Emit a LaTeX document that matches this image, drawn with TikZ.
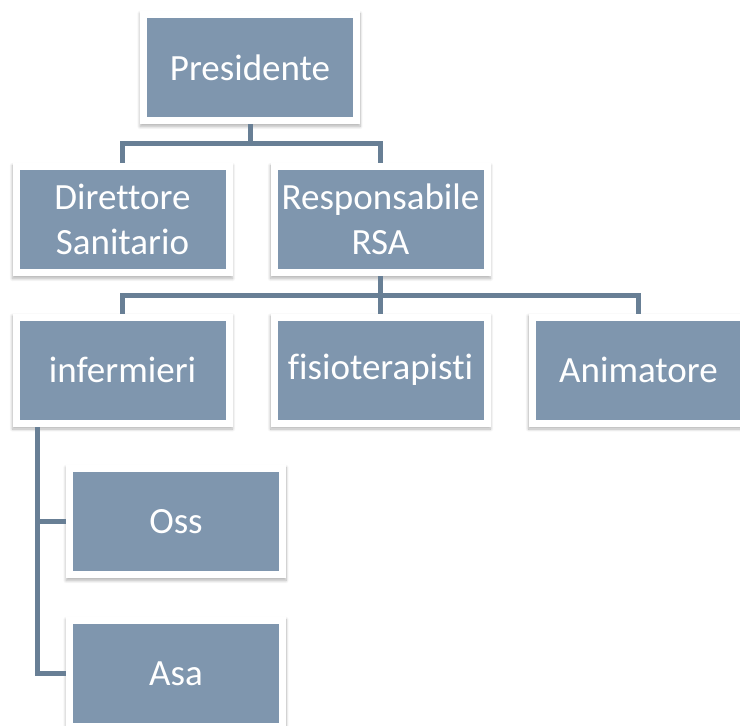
\documentclass[tikz,border=0pt]{standalone}
\usepackage{fontspec}
\setmainfont{Carlito}[Ligatures={NoCommon}]
\usetikzlibrary{shadows.blur}
\definecolor{boxfill}{HTML}{7F96AE}
\definecolor{connc}{HTML}{687F95}
\begin{document}
\begin{tikzpicture}[x=1pt,y=-1pt,
  orgbox/.style={rectangle, fill=white, draw=none,
    minimum width=220pt, minimum height=113pt, inner sep=0pt, outer sep=0pt,
    text=white, font=\fontsize{37}{45}\selectfont, align=center,
    path picture={\fill[boxfill] ([shift={(7pt,-7pt)}]path picture bounding box.north west)
      rectangle ([shift={(-7pt,7pt)}]path picture bounding box.south east);},
    blur shadow={shadow xshift=0pt, shadow yshift=-2.5pt, shadow opacity=30, shadow blur radius=3pt, shadow blur steps=8}},
  conn/.style={draw=connc, line width=5pt, line join=miter}]
\useasboundingbox (0,0) rectangle (740,726);
\clip (0,0) rectangle (740,726);
\coordinate (bar1) at (250,143);
\coordinate (bar2) at (380.5,295);
\coordinate (ib) at (37,427);
\node[orgbox] (pres) at (250,67.5) {Presidente};
\node[orgbox] (dir) at (122.5,219.5) {Direttore\\Sanitario};
\node[orgbox] (resp) at (380.5,219.5) {Responsabile\\RSA};
\node[orgbox] (inf) at (122.5,370) {infermieri};
\node[orgbox] (fis) at (380.5,370) {fisioterapisti};
\node[orgbox] (ani) at (638.5,370) {Animatore};
\node[orgbox] (oss) at (176,521.5) {Oss};
\node[orgbox] (asa) at (176,673.5) {Asa};
\draw[conn] (pres.south) -- (bar1);
\draw[conn] (bar1) -| (dir.north);
\draw[conn] (bar1) -| (resp.north);
\draw[conn] (resp.south) -- (bar2);
\draw[conn] (bar2) -| (inf.north);
\draw[conn] (bar2) -- (fis.north);
\draw[conn] (bar2) -| (ani.north);
\draw[conn] (ib) |- (oss.west);
\draw[conn] (ib) |- (asa.west);
\end{tikzpicture}
\end{document}
